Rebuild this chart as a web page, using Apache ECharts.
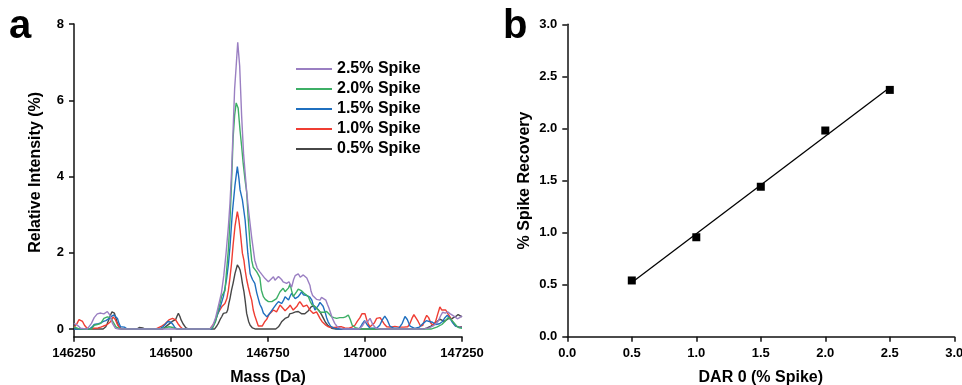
<!DOCTYPE html>
<html>
<head>
<meta charset="utf-8">
<script src="https://cdn.jsdelivr.net/npm/echarts@6/dist/echarts.min.js"></script>
<style>html,body{margin:0;padding:0;background:#fff}#c{width:962px;height:385px}</style>
</head>
<body>
<div id="c"></div>
<script>
// ---------- Panel a: deconvoluted mass spectra (mass Da, relative intensity %) ----------
const spike25 = [[146250,0.15],[146259,0.1],[146267,0.02],[146284,0],[146295,0.15],[146302,0.3],[146310,0.4],[146315,0.44],[146319,0.42],[146323,0.46],[146327,0.4],[146332,0.44],[146336,0.46],[146340,0.41],[146343,0.36],[146349,0.15],[146357,0.02],[146365,0],[146600,0],[146608,0.1],[146615,0.3],[146622,0.6],[146630,0.95],[146636,1.4],[146642,2.0],[146648,2.7],[146652,3.3],[146656,4.1],[146660,5.2],[146664,6.3],[146668,6.9],[146672,7.52],[146677,6.9],[146682,5.6],[146687,4.6],[146691,4.1],[146695,3.6],[146700,3.1],[146708,2.4],[146716,1.8],[146722,1.6],[146729,1.5],[146735,1.42],[146742,1.33],[146747,1.38],[146751,1.24],[146757,1.3],[146764,1.37],[146768,1.28],[146772,1.3],[146777,1.38],[146781,1.4],[146785,1.3],[146789,1.24],[146794,1.28],[146798,1.2],[146804,1.24],[146811,1.1],[146816,1.3],[146820,1.4],[146824,1.35],[146828,1.45],[146833,1.36],[146837,1.32],[146841,1.42],[146845,1.4],[146850,1.34],[146854,1.3],[146858,1.15],[146861,0.99],[146865,0.88],[146869,0.83],[146875,0.78],[146880,0.8],[146884,0.76],[146888,0.83],[146893,0.8],[146899,0.76],[146903,0.65],[146907,0.55],[146912,0.4],[146916,0.28],[146922,0.15],[146927,0.08],[146935,0.03],[146945,0],[146985,0],[146993,0.08],[147000,0.2],[147006,0.18],[147013,0.28],[147020,0.12],[147028,0.02],[147040,0],[147150,0],[147165,0.03],[147178,0.1],[147188,0.2],[147195,0.35],[147200,0.44],[147207,0.42],[147213,0.45],[147220,0.4],[147226,0.36],[147232,0.32],[147238,0.27],[147244,0.3],[147250,0.35]];

const spike20 = [[146250,0.06],[146260,0.02],[146267,0],[146295,0],[146302,0.1],[146310,0.12],[146319,0.15],[146324,0.2],[146327,0.28],[146332,0.3],[146336,0.32],[146340,0.29],[146344,0.3],[146348,0.25],[146353,0.15],[146358,0.06],[146362,0.02],[146370,0],[146470,0],[146485,0.03],[146495,0.06],[146505,0.04],[146515,0],[146600,0],[146608,0.05],[146615,0.2],[146622,0.5],[146627,0.7],[146631,0.87],[146635,0.94],[146639,1.0],[146643,1.5],[146648,2.1],[146652,2.86],[146656,3.8],[146660,5.0],[146664,5.6],[146668,5.93],[146673,5.8],[146678,5.2],[146682,4.8],[146686,4.35],[146691,3.9],[146695,3.6],[146699,2.9],[146704,2.2],[146708,1.8],[146712,1.62],[146716,1.6],[146721,1.5],[146725,1.55],[146729,1.35],[146733,1.02],[146738,0.85],[146743,0.78],[146747,0.76],[146751,0.72],[146756,0.74],[146760,0.72],[146765,0.76],[146772,0.8],[146777,0.9],[146781,0.98],[146785,1.02],[146789,1.07],[146794,0.98],[146798,0.94],[146803,1.08],[146807,1.18],[146811,1.0],[146815,0.85],[146820,0.9],[146824,0.98],[146828,1.05],[146832,1.1],[146837,1.0],[146843,0.94],[146848,0.9],[146854,0.85],[146859,0.72],[146864,0.63],[146870,0.6],[146875,0.58],[146880,0.5],[146884,0.44],[146888,0.41],[146895,0.44],[146901,0.46],[146907,0.4],[146914,0.32],[146920,0.3],[146927,0.28],[146935,0.3],[146944,0.3],[146950,0.32],[146957,0.37],[146962,0.25],[146967,0.1],[146975,0.04],[146985,0.01],[147000,0],[147170,0],[147185,0.05],[147198,0.12],[147206,0.2],[147214,0.3],[147220,0.27],[147228,0.18],[147236,0.08],[147243,0.03],[147250,0.02]];

const spike15 = [[146250,0],[146290,0],[146296,0.05],[146302,0.12],[146306,0.15],[146313,0.14],[146319,0.16],[146326,0.2],[146332,0.22],[146338,0.26],[146344,0.32],[146349,0.35],[146353,0.37],[146357,0.33],[146362,0.28],[146366,0.15],[146370,0.06],[146375,0.05],[146380,0.05],[146387,0],[146470,0],[146478,0.05],[146485,0.12],[146492,0.2],[146496,0.22],[146500,0.18],[146505,0.12],[146510,0.04],[146516,0],[146605,0],[146612,0.15],[146618,0.32],[146626,0.55],[146635,0.85],[146643,1.29],[146648,1.7],[146652,2.16],[146658,3.04],[146665,3.78],[146671,4.26],[146675,3.95],[146678,3.65],[146684,3.39],[146691,2.86],[146698,1.99],[146704,1.45],[146710,1.3],[146716,1.2],[146721,0.95],[146725,0.8],[146729,0.65],[146734,0.55],[146738,0.42],[146742,0.38],[146747,0.32],[146751,0.3],[146755,0.42],[146760,0.45],[146764,0.55],[146768,0.59],[146772,0.66],[146777,0.72],[146781,0.7],[146785,0.67],[146790,0.75],[146794,0.85],[146798,0.8],[146803,0.76],[146807,0.86],[146811,0.94],[146816,0.86],[146820,0.8],[146824,0.84],[146828,0.85],[146833,0.92],[146837,0.98],[146841,0.9],[146845,0.85],[146850,0.88],[146854,0.9],[146858,0.84],[146863,0.76],[146867,0.62],[146871,0.5],[146875,0.54],[146880,0.62],[146884,0.7],[146888,0.75],[146892,0.6],[146897,0.45],[146901,0.3],[146905,0.19],[146911,0.08],[146918,0.03],[146930,0],[146985,0],[146992,0.12],[146999,0.22],[147005,0.12],[147012,0.03],[147030,0.02],[147038,0.1],[147045,0.25],[147051,0.34],[147057,0.25],[147064,0.08],[147075,0.02],[147088,0.03],[147096,0.15],[147103,0.33],[147109,0.25],[147116,0.08],[147128,0.02],[147140,0.05],[147150,0.15],[147158,0.22],[147166,0.2],[147174,0.18],[147182,0.12],[147192,0.14],[147200,0.2],[147206,0.3],[147212,0.36],[147218,0.3],[147225,0.18],[147233,0.08],[147242,0.05],[147250,0.05]];

const spike10 = [[146250,0.04],[146258,0.15],[146263,0.25],[146267,0.29],[146272,0.2],[146277,0.1],[146282,0.04],[146289,0],[146302,0.02],[146312,0.03],[146319,0.05],[146326,0.08],[146332,0.1],[146338,0.14],[146344,0.19],[146348,0.26],[146351,0.32],[146354,0.3],[146357,0.24],[146362,0.12],[146366,0.06],[146372,0],[146460,0],[146468,0.04],[146476,0.08],[146484,0.13],[146490,0.19],[146496,0.25],[146500,0.3],[146504,0.28],[146508,0.3],[146512,0.24],[146518,0.14],[146524,0.06],[146530,0.01],[146540,0],[146600,0],[146606,0.08],[146613,0.19],[146620,0.4],[146626,0.5],[146632,0.6],[146639,0.67],[146644,0.8],[146648,1.02],[146652,1.35],[146656,1.72],[146660,2.2],[146665,2.7],[146671,3.08],[146675,2.85],[146678,2.6],[146684,1.99],[146688,1.8],[146691,1.55],[146695,1.3],[146699,1.11],[146704,0.9],[146708,0.76],[146712,0.5],[146716,0.35],[146721,0.2],[146725,0.08],[146730,0.05],[146735,0.08],[146742,0.2],[146747,0.26],[146751,0.35],[146755,0.41],[146760,0.45],[146764,0.5],[146768,0.47],[146772,0.45],[146777,0.55],[146781,0.63],[146785,0.58],[146789,0.54],[146794,0.48],[146798,0.5],[146803,0.57],[146807,0.63],[146811,0.56],[146815,0.5],[146820,0.55],[146824,0.59],[146828,0.66],[146832,0.72],[146837,0.65],[146841,0.59],[146845,0.6],[146850,0.63],[146854,0.57],[146858,0.5],[146863,0.45],[146867,0.41],[146871,0.44],[146875,0.45],[146880,0.36],[146884,0.28],[146889,0.2],[146893,0.15],[146899,0.1],[146905,0.06],[146915,0.04],[146923,0.04],[146932,0.06],[146940,0.06],[146948,0.03],[146957,0.02],[146966,0.05],[146974,0.1],[146980,0.2],[146987,0.3],[146992,0.4],[146996,0.45],[147000,0.4],[147004,0.26],[147009,0.12],[147013,0.06],[147018,0.08],[147024,0.16],[147030,0.28],[147034,0.32],[147039,0.3],[147043,0.26],[147049,0.14],[147056,0.06],[147065,0.05],[147077,0.07],[147088,0.05],[147100,0.05],[147110,0.06],[147116,0.15],[147121,0.28],[147126,0.38],[147131,0.34],[147137,0.2],[147143,0.08],[147149,0.1],[147154,0.25],[147159,0.36],[147164,0.3],[147170,0.15],[147176,0.1],[147182,0.2],[147187,0.38],[147193,0.58],[147198,0.5],[147202,0.45],[147208,0.5],[147214,0.4],[147219,0.32],[147224,0.22],[147229,0.14],[147236,0.07],[147243,0.05],[147250,0.06]];

const spike05 = [[146250,0],[146325,0],[146332,0.06],[146336,0.15],[146340,0.25],[146344,0.37],[146348,0.45],[146351,0.5],[146354,0.42],[146357,0.32],[146362,0.15],[146366,0.06],[146372,0],[146412,0],[146418,0.04],[146422,0.06],[146427,0.03],[146433,0],[146478,0],[146485,0.05],[146490,0.1],[146497,0.15],[146503,0.2],[146508,0.22],[146512,0.25],[146516,0.35],[146519,0.41],[146523,0.33],[146526,0.24],[146531,0.14],[146538,0.04],[146545,0],[146612,0],[146618,0.08],[146622,0.15],[146626,0.24],[146631,0.33],[146635,0.41],[146639,0.38],[146643,0.43],[146646,0.5],[146649,0.67],[146652,0.8],[146656,1.02],[146660,1.2],[146665,1.46],[146671,1.68],[146675,1.62],[146678,1.55],[146681,1.4],[146684,1.2],[146688,0.98],[146691,0.76],[146695,0.41],[146700,0.2],[146704,0.1],[146710,0.03],[146718,0],[146770,0],[146777,0.06],[146781,0.12],[146785,0.19],[146790,0.24],[146794,0.28],[146798,0.3],[146803,0.32],[146806,0.4],[146809,0.45],[146813,0.42],[146818,0.41],[146821,0.45],[146824,0.5],[146828,0.46],[146832,0.43],[146837,0.4],[146841,0.37],[146845,0.4],[146850,0.45],[146854,0.48],[146858,0.52],[146861,0.58],[146864,0.63],[146868,0.61],[146873,0.59],[146878,0.52],[146884,0.45],[146889,0.36],[146893,0.28],[146898,0.18],[146904,0.1],[146909,0.05],[146914,0.02],[146925,0],[147150,0],[147160,0.03],[147170,0.08],[147178,0.14],[147186,0.2],[147193,0.26],[147198,0.24],[147204,0.2],[147210,0.24],[147216,0.28],[147222,0.26],[147228,0.3],[147234,0.33],[147240,0.38],[147245,0.35],[147250,0.32]];

const spikeNames  = ['2.5% Spike','2.0% Spike','1.5% Spike','1.0% Spike','0.5% Spike'];
const spikeColors = ['#9a7fc2','#3daf66','#1f6fbf','#ef3d33','#474747'];
const massTicks = [146250,146500,146750,147000,147250];
const intensityTicks = [0,2,4,6,8];

// ---------- Panel b: spike recovery ----------
const darSpike = [0.5,1.0,1.5,2.0,2.5];
const recovery = [0.54,0.955,1.44,1.98,2.37];
const bTicks = [0,0.5,1.0,1.5,2.0,2.5,3.0];

// least-squares fit computed from the data above
const n = darSpike.length;
const mx = darSpike.reduce((a,b)=>a+b,0)/n;
const my = recovery.reduce((a,b)=>a+b,0)/n;
let sxy=0, sxx=0;
for (let i=0;i<n;i++){ sxy += (darSpike[i]-mx)*(recovery[i]-my); sxx += (darSpike[i]-mx)**2; }
const slope = sxy/sxx, icpt = my - slope*mx;
const fitLine = [darSpike[0], darSpike[n-1]].map(x=>[x, slope*x+icpt]);

const FONT = 'Liberation Sans, Arial, Helvetica, sans-serif';
const axisColor = '#111';
function axisBase(){
  return {
    axisLine:{show:true,onZero:false,lineStyle:{color:axisColor,width:1.5}},
    axisTick:{show:true,inside:false,length:5,lineStyle:{color:axisColor,width:1.5}},
    axisLabel:{color:'#000',fontSize:13,fontWeight:'bold',fontFamily:FONT,margin:10},
    splitLine:{show:false},
    nameLocation:'middle',
    nameTextStyle:{color:'#000',fontSize:16,fontWeight:'bold',fontFamily:FONT}
  };
}

const chart = echarts.init(document.getElementById('c'), null, {renderer:'canvas', width:962, height:385});

const xA = axisBase();
Object.assign(xA, {type:'value', gridIndex:0, min:massTicks[0], max:massTicks[massTicks.length-1], interval:250, name:'Mass (Da)', nameGap:33});
xA.axisLabel.formatter = v=>String(v);
xA.axisLabel.margin = 10;
const yA = axisBase();
Object.assign(yA, {type:'value', gridIndex:0, min:-0.2, max:8, name:'Relative Intensity (%)', nameGap:30});
yA.axisLabel.customValues = intensityTicks;
yA.axisTick.customValues = intensityTicks;
yA.nameTextStyle.padding = [0,0,0,16];

const xB = axisBase();
Object.assign(xB, {type:'value', gridIndex:1, min:0, max:3, interval:0.5, name:'DAR 0 (% Spike)', nameGap:33});
xB.axisLabel.formatter = v=>v.toFixed(1);
xB.axisLabel.margin = 10;
const yB = axisBase();
Object.assign(yB, {type:'value', gridIndex:1, min:0, max:3, interval:0.5, name:'% Spike Recovery', nameGap:35});
yB.axisLabel.formatter = v=>v.toFixed(1);

const spectra = [spike25, spike20, spike15, spike10, spike05];
const lineSeries = [];
for (let i=spectra.length-1;i>=0;i--){
  lineSeries.push({
    name:spikeNames[i], type:'line', xAxisIndex:0, yAxisIndex:0,
    data:spectra[i], symbol:'none', showSymbol:false, smooth:false,
    lineStyle:{color:spikeColors[i],width:1.4}, itemStyle:{color:spikeColors[i]},
    z: 10 + (spectra.length-i), silent:true
  });
}

chart.setOption({
  animation:false,
  backgroundColor:'#fff',
  grid:[
    {left:74, top:24, width:388, height:312.7, containLabel:false, outerBoundsMode:'none'},
    {left:567.3, top:24.3, width:387, height:312.4, containLabel:false, outerBoundsMode:'none'}
  ],
  xAxis:[xA, xB],
  yAxis:[yA, yB],
  legend:{
    orient:'vertical', left:296, top:59, padding:0, itemWidth:36, itemHeight:2, itemGap:0,
    icon:'rect',
    data:spikeNames, selectedMode:false,
    textStyle:{color:'#000',fontSize:16,fontWeight:'bold',fontFamily:FONT,lineHeight:20}
  },
  graphic:[
    {type:'text', left:9, top:7, style:{text:'a', font:'bold 40px '+FONT, fill:'#000'}},
    {type:'text', left:503, top:7, style:{text:'b', font:'bold 40px '+FONT, fill:'#000'}}
  ],
  series: lineSeries.concat([
    {type:'line', xAxisIndex:1, yAxisIndex:1, data:fitLine, symbol:'none',
     lineStyle:{color:'#000',width:1.3}, silent:true, z:5},
    {type:'scatter', xAxisIndex:1, yAxisIndex:1, data:darSpike.map((x,i)=>[x,recovery[i]]),
     symbol:'rect', symbolSize:8, itemStyle:{color:'#000',opacity:1}, silent:true, z:6}
  ])
});
</script>
</body>
</html>
